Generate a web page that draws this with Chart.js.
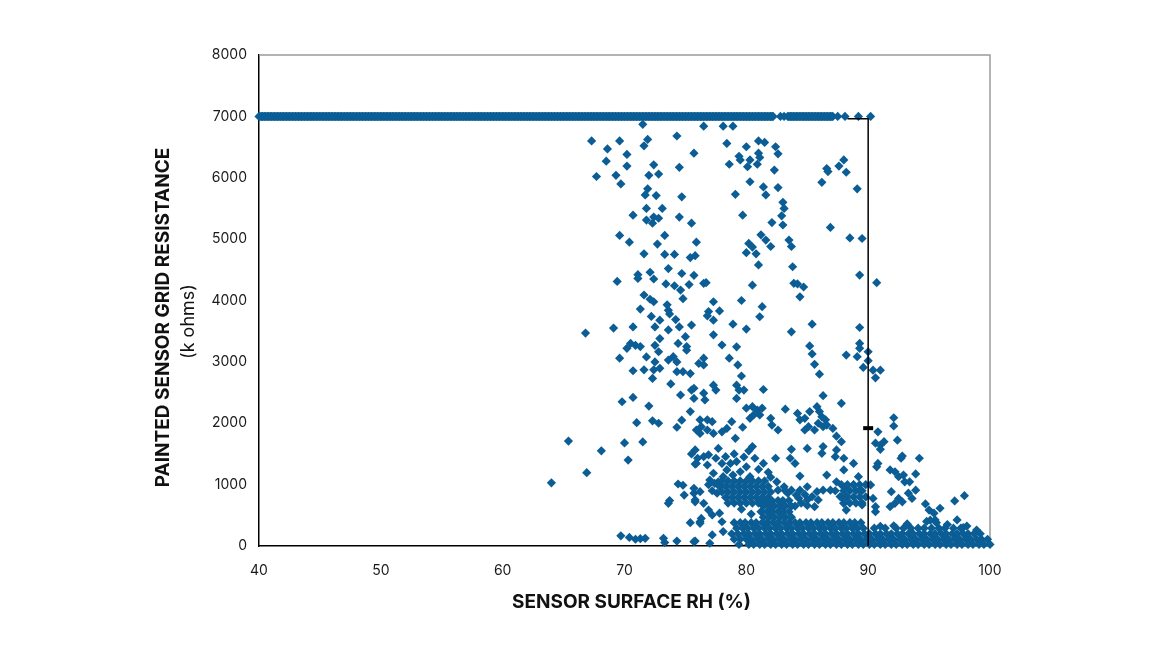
<!DOCTYPE html>
<html>
<head>
<meta charset="utf-8">
<script src="https://cdn.jsdelivr.net/npm/chart.js@4"></script>
<style>
  html, body { margin: 0; padding: 0; background: #fff; }
  #wrap { width: 1155px; height: 650px; }
</style>
</head>
<body>
<div id="wrap"><canvas id="rhChart" width="1155" height="650"></canvas></div>
<script>
// --- Data ---
// x = sensor surface RH (%), y = grid resistance (k ohms)

// readings pinned at the 7000 k ohm ceiling
const capRH = [40.0, 40.25, 40.5, 40.75, 41.0, 41.25, 41.5, 41.75, 42.0, 42.25, 42.5, 42.75, 43.0, 43.25, 43.5,
  43.75, 44.0, 44.25, 44.5, 44.75, 45.0, 45.25, 45.5, 45.75, 46.0, 46.25, 46.5, 46.75, 47.0, 47.25, 47.5, 47.75,
  48.0, 48.25, 48.5, 48.75, 49.0, 49.25, 49.5, 49.75, 50.0, 50.25, 50.5, 50.75, 51.0, 51.25, 51.5, 51.75, 52.0,
  52.25, 52.5, 52.75, 53.0, 53.25, 53.5, 53.75, 54.0, 54.25, 54.5, 54.75, 55.0, 55.25, 55.5, 55.75, 56.0, 56.25,
  56.5, 56.75, 57.0, 57.25, 57.5, 57.75, 58.0, 58.25, 58.5, 58.75, 59.0, 59.25, 59.5, 59.75, 60.0, 60.25, 60.5,
  60.75, 61.0, 61.25, 61.5, 61.75, 62.0, 62.25, 62.5, 62.75, 63.0, 63.25, 63.5, 63.75, 64.0, 64.25, 64.5, 64.75,
  65.0, 65.25, 65.5, 65.75, 66.0, 66.25, 66.5, 66.75, 67.0, 67.25, 67.5, 67.75, 68.0, 68.25, 68.5, 68.75, 69.0,
  69.25, 69.5, 69.75, 70.0, 70.25, 70.5, 70.75, 71.0, 71.25, 71.5, 71.75, 72.0, 72.25, 72.5, 72.75, 73.0, 73.25,
  73.5, 73.75, 74.0, 74.25, 74.5, 74.75, 75.0, 75.25, 75.5, 75.75, 76.0, 76.25, 76.5, 76.75, 77.0, 77.25, 77.5,
  77.75, 78.0, 78.25, 78.5, 78.75, 79.0, 79.25, 79.5, 79.75, 80.0, 80.25, 80.5, 80.75, 81.0, 81.25, 81.5, 81.75,
  82.0, 82.2, 82.8, 83.1, 83.4, 83.65, 83.9, 84.15, 84.4, 84.65, 84.9, 85.15, 85.4, 85.65, 85.9, 86.15, 86.4,
  86.65, 86.9, 87.1, 87.5, 88.1, 89.2, 90.2];
const capRes = 7000;

// sparse readings above 3000
const upperPoints = [
  [71.5,6870],[76.5,6840],[78.1,6840],[78.9,6840],
  [67.3,6600],[69.6,6600],[71.9,6625],[71.6,6520],[74.3,6680],[68.6,6470],[70.2,6380],[75.7,6400],[68.5,6270],
  [70.2,6190],[72.4,6210],[74.5,6170],[67.7,6020],[69.3,6040],[72.0,6040],[72.8,6060],[69.7,5900],[71.9,5820],
  [71.7,5720],[72.6,5710],[74.7,5690],[71.8,5500],[73.1,5500],[70.7,5390],[71.8,5310],[72.4,5360],[72.8,5340],
  [72.3,5260],[74.5,5360],[75.5,5260],[69.6,5060],[70.4,4950],[73.3,5060],[72.7,4920],[75.9,4950],[71.6,4760],
  [73.3,4750],[74.1,4750],[75.4,4700],[75.8,4730],[73.6,4520],[72.1,4460],[71.1,4420],[71.1,4360],[72.4,4350],
  [74.7,4440],[75.7,4410],[69.4,4310],[73.4,4270],[74.1,4240],[74.6,4170],[75.3,4260],[71.6,4090],[72.1,4020],
  [72.4,3980],[74.8,4030],[71.3,3860],[73.5,3930],[73.6,3840],[73.7,3780],[72.2,3740],[72.9,3680],[74.2,3690],
  [66.8,3470],[69.1,3550],[70.7,3570],[72.5,3570],[73.6,3520],[74.5,3570],[75.5,3600],[75.0,3410],
  [78.4,6560],[80.0,6505],[81.0,6600],[81.5,6575],[82.4,6505],[82.6,6390],[79.4,6350],[79.5,6290],[78.6,6220],
  [80.3,6290],[80.1,6180],[81.0,6400],[81.1,6330],[80.9,6220],[82.3,6125],[80.3,5935],[81.4,5850],[81.6,5720],
  [82.6,5840],[79.1,5730],[83.0,5600],[83.1,5500],[82.9,5380],[83.0,5230],[82.1,5270],[79.7,5390],[86.9,5190],
  [88.5,5020],[86.2,5925],[86.6,6150],[86.7,6100],[87.6,6190],[88.0,6290],[88.2,6090],[81.2,5070],[81.6,4985],
  [82.0,4880],[80.2,4930],[80.5,4870],[80.0,4780],[80.8,4760],[81.0,4580],[83.5,4985],[83.7,4880],[83.8,4550],
  [80.5,4250],[83.9,4280],[84.2,4270],[84.7,4220],[84.4,4060],[76.5,4280],[76.7,4290],[77.3,3980],[77.8,3830],
  [76.9,3820],[76.8,3750],[77.3,3680],[79.6,4000],[81.3,3900],[81.1,3735],[78.9,3615],[80.0,3535],[83.7,3490],
  [85.4,3615],[77.3,3440],[89.1,5820],[89.5,5010],[89.3,4415],[90.7,4290],[89.3,3560],
  [70.9,3270],[70.5,3300],[70.2,3220],[71.3,3250],[72.5,3270],[72.9,3380],[72.8,3165],[74.4,3300],[75.1,3190],
  [75.1,3250],[78.0,3275],[79.2,3245],[85.2,3260],[85.4,3130],[89.3,3300],[89.3,3220],[89.1,3085],[90.0,3165],
  [90.0,3020],[88.2,3110],[73.6,3030],[74.0,3085],[74.3,3000],[69.6,3060],[71.8,3080],[72.5,3000],[78.6,3060],
  [76.5,3060],[76.1,2975]
];

// sparse readings between 1000 and 3000
const middlePoints = [
  [72.9,2895],[72.4,2870],[70.7,2855],[71.6,2870],[72.3,2730],[74.3,2840],[74.8,2840],[75.4,2810],[73.8,2640],
  [74.6,2460],[75.5,2540],[75.7,2405],[69.8,2350],[70.7,2420],[72.0,2280],[75.4,2190],[71.0,2010],[72.3,2040],
  [72.8,2000],[74.7,2050],[74.3,1935],[75.9,1890],[65.4,1710],[68.1,1550],[70.0,1680],[71.5,1695],[70.3,1400],
  [66.9,1195],[64.0,1030],[75.5,1500],[75.8,1335],[76.0,1430],[74.4,1010],
  [79.3,2950],[79.6,2770],[85.6,2960],[86.0,2800],[76.5,2950],[75.7,2570],[77.3,2620],[77.5,2540],[76.5,2490],
  [76.6,2380],[79.2,2620],[79.4,2540],[79.2,2405],[79.8,2540],[81.4,2550],[86.3,2450],[87.8,2325],[83.2,2230],
  [80.0,2245],[80.5,2270],[80.9,2215],[81.3,2245],[80.6,2135],[81.1,2135],[80.3,2080],[82.0,2080],[82.1,1970],
  [82.6,1890],[76.2,2055],[76.8,2055],[77.2,2025],[76.3,1945],[76.8,1890],[76.2,1835],[77.3,1835],[78.0,1860],
  [78.4,1915],[78.8,2025],[79.7,1935],[79.1,1755],[84.2,2160],[84.8,2080],[85.2,2190],[85.8,2270],[86.0,2190],
  [86.2,2105],[86.5,2055],[85.9,2000],[86.3,1945],[86.6,1970],[85.1,1945],[84.8,1890],[84.4,2055],[85.6,1890],
  [87.1,1915],[87.4,1790],[87.8,1700],[85.0,1590],[83.7,1575],[83.6,1430],[84.0,1345],[84.4,1140],[82.4,1430],
  [80.7,1430],[81.4,1345],[82.5,1045],[86.6,1155],[86.3,1620],[86.2,1510],[87.4,1565],[88.0,1430],[87.3,1455],
  [87.4,1045],[88.0,1240],[88.1,965],
  [75.8,1565],[75.9,1345],[76.5,1455],[76.9,1485],[76.8,1320],[77.7,1590],[77.5,1430],[78.0,1345],[78.3,1455],
  [78.7,1345],[79.2,1375],[78.4,1240],[77.3,1185],[77.0,1075],[77.7,1045],[78.1,1130],[78.9,1155],[79.5,1210],
  [80.0,1290],[80.3,1130],[79.8,1450],[80.2,1550],[81.0,1250],[81.8,1200],[82.0,1120],[79.0,1500],[80.5,1620],
  [89.6,2910],[90.4,2865],[91.0,2865],[90.6,2740],[92.1,2090],[92.1,1955],[90.8,1860],[92.4,1725],[90.6,1675],
  [91.0,1645],[91.3,1700],[91.0,1575],[92.8,1465],[92.7,1430],[94.2,1430],[90.7,1290],[90.8,1345],[91.8,1240],
  [92.2,1210],[92.5,1130],[92.9,1155],[93.0,1045],[93.4,1045],[93.9,1175],[88.8,1345],[89.2,1130]
];

// readings below 1000 outside the dense floor band
const lowerPoints = [
  [74.8,990],[74.9,830],[73.7,740],[73.6,695],[75.7,860],[75.8,720],[75.4,380],[69.7,165],[70.4,140],[70.9,110],
  [71.3,120],[71.7,125],[73.2,125],[73.3,55],[74.3,80],[75.7,70],[76.2,395],[75.7,940],[76.2,885],[75.8,750],
  [76.5,695],[76.9,585],[76.3,450],[76.2,370],[75.8,80],[77.2,505],[77.8,535],[78.0,395],[78.1,235],[77.2,180],
  [77.0,45],[86.3,910],[85.8,885],[86.9,910],[84.4,910],[85.0,965],[85.4,805],[85.9,750],[85.6,640],[85.0,750],
  [84.1,830],[83.7,910],[83.1,965],[83.4,860],[88.0,695],[88.2,585],[87.7,805],[82.6,910],[83.2,900],[87.3,900],
  [84.0,650],[84.5,700],[85.0,660],[84.3,780],[84.8,840],[76.9,1000],[77.4,1020],[77.9,980],[77.2,900],[77.6,860],
  [93.9,910],[91.9,885],[93.3,860],[93.6,775],[92.5,775],[92.2,695],[92.8,720],[91.8,640],[90.4,775],[90.6,640],
  [90.6,560],[89.5,670],[94.7,685],[95.0,585],[95.4,535],[95.9,615],[95.5,425],[97.1,735],[97.9,820],[97.3,425],
  [98.1,325],[90.2,995],[88.8,995],[89.3,910],[88.2,805],[93.2,360],[94.8,400],[95.1,420],[95.6,380],[96.5,350],
  [92.1,330],[91.0,320],[97.8,300],[98.9,260]
];

// clusters between 400 and 1100
const clusterPoints = [
  [78.0,1060],[78.5,1060],[79.0,1060],[79.5,1060],[80.0,1060],[80.5,1060],[81.0,1060],[81.5,1060],
  [77.8,970],[78.3,970],[78.8,970],[79.3,970],[79.8,970],[80.3,970],[80.8,970],[81.3,970],[81.8,970],
  [78.0,880],[78.5,880],[79.0,880],[79.5,880],[80.0,880],[80.5,880],[81.0,880],[81.5,880],[82.0,880],
  [78.3,790],[78.8,790],[79.3,790],[79.8,790],[80.3,790],[80.8,790],[81.3,790],[81.8,790],
  [78.5,700],[79.0,700],[79.5,700],[80.0,700],[80.5,700],[81.0,700],[81.5,700],[82.0,700],
  [81.2,740],[81.7,740],[82.1,740],[82.6,740],[83.0,740],[83.5,740],
  [81.4,650],[81.9,650],[82.3,650],[82.8,650],[83.2,650],[83.7,650],
  [81.2,560],[81.7,560],[82.1,560],[82.6,560],[83.0,560],[83.5,560],
  [79.6,600],[80.4,520],[81.4,470],[81.9,470],[82.3,470],[82.8,470],[83.2,470],[83.7,470],
  [87.8,1000],[88.3,1000],[88.8,1000],[89.3,1000],[89.8,1000],
  [88.0,900],[88.5,900],[89.0,900],[89.5,900],
  [87.8,800],[88.3,800],[88.8,800],[89.3,800],[89.8,800],
  [88.0,700],[88.5,700],[89.0,700],[89.5,700]
];

// dense floor band, one list of RH values per resistance row
const floorRows = [380, 290, 200, 110, 25];
const floorRH = [
  [79.0, 79.5, 79.9, 80.4, 80.8, 81.3, 81.7, 82.2, 82.6, 83.1, 83.5, 84.0, 84.4, 84.9, 85.3, 85.8, 86.2, 86.7,
   87.1, 87.6, 88.0, 88.5, 88.9, 89.4],
  [79.2, 79.7, 80.1, 80.6, 81.0, 81.5, 81.9, 82.4, 82.8, 83.3, 83.7, 84.2, 84.6, 85.1, 85.5, 86.0, 86.4, 86.9,
   87.3, 87.8, 88.2, 88.7, 89.1, 89.6, 90.5, 91.4, 92.3, 92.9, 93.5, 94.1, 94.6, 95.2, 95.8, 96.3, 97.0, 97.6],
  [78.8, 79.3, 79.8, 80.2, 80.7, 81.1, 81.6, 82.0, 82.5, 82.9, 83.4, 83.8, 84.3, 84.7, 85.2, 85.6, 86.1, 86.5,
   87.0, 87.4, 87.9, 88.3, 88.8, 89.2, 89.7, 90.1, 90.6, 91.0, 91.5, 91.9, 92.4, 92.8, 93.3, 93.7, 94.2, 94.6,
   95.1, 95.5, 96.0, 96.4, 96.9, 97.3, 97.8, 98.2, 98.7, 99.2],
  [79.0, 79.5, 80.0, 80.4, 80.9, 81.3, 81.8, 82.2, 82.7, 83.1, 83.6, 84.0, 84.5, 84.9, 85.4, 85.8, 86.3, 86.7,
   87.2, 87.6, 88.1, 88.5, 89.0, 89.4, 89.9, 90.3, 90.8, 91.2, 91.7, 92.1, 92.6, 93.0, 93.5, 93.9, 94.4, 94.8,
   95.3, 95.7, 96.2, 96.6, 97.1, 97.5, 98.0, 98.4, 98.9, 99.3, 99.8],
  [79.4, 80.2, 80.6, 81.1, 81.5, 82.0, 82.4, 82.9, 83.3, 83.8, 84.2, 84.7, 85.1, 85.6, 86.0, 86.5, 86.9, 87.4,
   87.8, 88.3, 88.7, 89.2, 89.6, 90.1, 90.5, 91.0, 91.4, 91.9, 92.3, 92.8, 93.2, 93.7, 94.1, 94.6, 95.0, 95.5,
   95.9, 96.4, 96.8, 97.3, 97.7, 98.2, 98.6, 99.1, 99.5, 100.0]
];

// vertical 90% RH marker line and its small tick
const limitRH = [88.3, 90, 90];
const limitRes = [6960, 6960, 0];
const markRH = [90];
const markRes = [1920];

const xTicks = [40, 50, 60, 70, 80, 90, 100];
const yTicks = [0, 1000, 2000, 3000, 4000, 5000, 6000, 7000, 8000];

// --- Build chart data ---
const toXY = (pairs) => pairs.map(([x, y]) => ({ x, y }));

const capData = capRH.map(x => ({ x, y: capRes }));
const scatterData = [
  ...toXY(upperPoints),
  ...toXY(middlePoints),
  ...toXY(lowerPoints),
  ...toXY(clusterPoints)
];
floorRows.forEach((res, i) => {
  floorRH[i].forEach(x => scatterData.push({ x, y: res }));
});

const BLUE = '#0b5d95';
const FONT = 'Inter';

// gray frame round the plot area (top and right edges)
const framePlugin = {
  id: 'frame',
  beforeDatasetsDraw(chart) {
    const { ctx, chartArea: a } = chart;
    ctx.save();
    ctx.strokeStyle = '#9a9a9a';
    ctx.lineWidth = 1.5;
    ctx.beginPath();
    ctx.moveTo(a.left, a.top);
    ctx.lineTo(a.right, a.top);
    ctx.lineTo(a.right, a.bottom);
    ctx.stroke();
    ctx.restore();
  }
};

// the axis titles in the reference sit a little off the plot centre
const titleShiftPlugin = {
  id: 'titleShift',
  afterLayout(chart) {
    const move = (id, dx, dy) => {
      const s = chart.scales[id];
      s.left += dx; s.right += dx;
      s.top += dy; s.bottom += dy;
    };
    move('yName', 0, 17);
    move('yUnit', 0, 21);
    move('xName', 7, 0);
  }
};

const markerStyle = {
  pointStyle: 'rectRot',
  pointRadius: 4.6,
  pointBorderWidth: 0,
  pointBackgroundColor: BLUE,
  pointBorderColor: BLUE,
  backgroundColor: BLUE,
  borderColor: BLUE,
  clip: false
};

// join neighbouring ceiling readings only where they touch
const capGap = (c) => capRH[c.p1DataIndex] - capRH[c.p0DataIndex] > 0.28;

const ctx = document.getElementById('rhChart').getContext('2d');
new Chart(ctx, {
  type: 'scatter',
  data: {
    datasets: [
      {
        type: 'line',
        data: limitRH.map((x, i) => ({ x, y: limitRes[i] })),
        borderColor: '#000',
        borderWidth: 1.5,
        pointRadius: 0,
        fill: false,
        clip: false
      },
      {
        data: markRH.map((x, i) => ({ x, y: markRes[i] })),
        pointStyle: 'line',
        pointRadius: 5,
        borderColor: '#000',
        pointBorderWidth: 4,
        clip: false
      },
      {
        // the crowded ceiling readings merge into one band
        ...markerStyle,
        type: 'line',
        data: capData,
        fill: false,
        tension: 0,
        borderWidth: 8.5,
        borderCapStyle: 'butt',
        segment: {
          borderColor: (c) => (capGap(c) ? 'rgba(0,0,0,0)' : BLUE)
        }
      },
      {
        ...markerStyle,
        data: scatterData
      }
    ]
  },
  options: {
    responsive: false,
    animation: false,
    events: [],
    layout: { padding: { left: 150, right: 165, top: 55, bottom: 36 } },
    plugins: { legend: { display: false }, tooltip: { enabled: false } },
    scales: {
      x: {
        type: 'linear',
        min: 40,
        max: 100,
        afterBuildTicks: (s) => { s.ticks = xTicks.map(v => ({ value: v })); },
        afterFit: (s) => { s.height = 34; },
        grid: { display: false, drawTicks: false },
        border: { display: true, color: '#000', width: 1.5 },
        ticks: { color: '#1a1a1a', padding: 16, font: { family: FONT, size: 14 }, callback: (v) => String(v) }
      },
      xName: {
        type: 'linear',
        position: 'bottom',
        min: 0,
        max: 1,
        afterFit: (s) => { s.height = 34; },
        grid: { display: false, drawTicks: false },
        border: { display: false },
        ticks: { display: false },
        title: {
          display: true,
          text: 'SENSOR SURFACE RH (%)',
          color: '#111',
          padding: 0,
          font: { family: FONT, size: 19, weight: 'bold' }
        }
      },
      y: {
        type: 'linear',
        min: 0,
        max: 8000,
        afterBuildTicks: (s) => { s.ticks = yTicks.map(v => ({ value: v })); },
        afterFit: (s) => { s.width = 50; },
        grid: { display: false, drawTicks: false },
        border: { display: true, color: '#000', width: 1.5 },
        ticks: { color: '#1a1a1a', padding: 12, font: { family: FONT, size: 14 }, callback: (v) => String(v) }
      },
      yUnit: {
        type: 'linear',
        position: 'left',
        min: 0,
        max: 1,
        afterFit: (s) => { s.width = 32; },
        grid: { display: false, drawTicks: false },
        border: { display: false },
        ticks: { display: false },
        title: {
          display: true,
          text: '(k ohms)',
          color: '#111',
          padding: { top: 1.2, bottom: 0 },
          font: { family: FONT, size: 18 }
        }
      },
      yName: {
        type: 'linear',
        position: 'left',
        min: 0,
        max: 1,
        afterFit: (s) => { s.width = 27; },
        grid: { display: false, drawTicks: false },
        border: { display: false },
        ticks: { display: false },
        title: {
          display: true,
          text: 'PAINTED SENSOR GRID RESISTANCE',
          color: '#111',
          padding: { top: 2, bottom: 0 },
          font: { family: FONT, size: 19, weight: 'bold' }
        }
      }
    }
  },
  plugins: [framePlugin, titleShiftPlugin]
});
</script>
</body>
</html>
